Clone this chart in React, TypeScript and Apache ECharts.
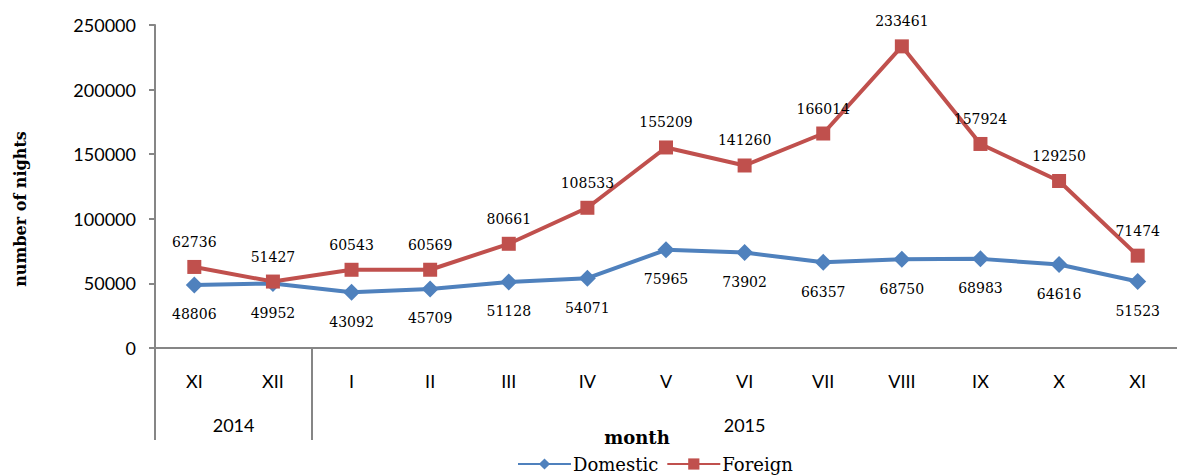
import React, { useEffect, useRef } from "react";
import * as echarts from "echarts";

const months = ["XI", "XII", "I", "II", "III", "IV", "V", "VI", "VII", "VIII", "IX", "X", "XI"];
const domestic = [48806, 49952, 43092, 45709, 51128, 54071, 75965, 73902, 66357, 68750, 68983, 64616, 51523];
const foreign = [62736, 51427, 60543, 60569, 80661, 108533, 155209, 141260, 166014, 233461, 157924, 129250, 71474];
const yearGroups = [
  { label: "2014", count: 2 },
  { label: "2015", count: 11 },
];
const yTicks = { min: 0, max: 250000, interval: 50000 };

const AXIS_GRAY = "#868686";
const SANS = "Lato, 'Liberation Sans', sans-serif";
const SERIF = "'DejaVu Serif', 'Liberation Serif', serif";

export default function App() {
  const ref = useRef<HTMLDivElement>(null);

  useEffect(() => {
    if (!ref.current) return;
    const chart = echarts.init(ref.current, undefined, { renderer: "svg" });

    const bounds: number[] = [0];
    const centers: number[] = [];
    let acc = 0;
    yearGroups.forEach((g) => {
      centers.push(acc + g.count / 2);
      acc += g.count;
      bounds.push(acc);
    });

    chart.setOption({
      animation: false,
      backgroundColor: "#ffffff",
      grid: { left: 155, top: 25, bottom: 127, right: -13, containLabel: false },
      xAxis: [
        {
          type: "category",
          data: months,
          boundaryGap: true,
          axisLine: { lineStyle: { color: AXIS_GRAY, width: 2 } },
          axisTick: { show: false },
          axisLabel: { color: "#000", fontFamily: SANS, fontSize: 18, margin: 24, interval: 0 },
          splitLine: { show: false },
        },
        {
          type: "value",
          min: 0,
          max: months.length,
          position: "bottom",
          axisLine: { show: false },
          splitLine: { show: false },
          axisTick: {
            show: true,
            inside: false,
            length: 92,
            customValues: bounds.slice(0, bounds.length - 1),
            lineStyle: { color: AXIS_GRAY, width: 2 },
          },
          axisLabel: {
            show: true,
            customValues: centers,
            formatter: (v: number) => {
              const i = centers.findIndex((c) => Math.abs(c - v) < 1e-6);
              return i >= 0 ? yearGroups[i].label : "";
            },
            color: "#000",
            fontFamily: SANS,
            fontSize: 18,
            margin: 68,
          },
        },
      ],
      yAxis: {
        type: "value",
        min: yTicks.min,
        max: yTicks.max,
        interval: yTicks.interval,
        axisLine: { show: true, lineStyle: { color: AXIS_GRAY, width: 2 } },
        axisTick: { show: true, length: 6, lineStyle: { color: AXIS_GRAY, width: 2 } },
        axisLabel: {
          color: "#000",
          fontFamily: SANS,
          fontSize: 18,
          margin: 19,
          formatter: (v: number) => String(v),
        },
        splitLine: { show: false },
      },
      legend: {
        left: 517,
        top: 455,
        itemWidth: 53,
        itemHeight: 14,
        itemGap: 8,
        padding: 0,
        textStyle: { fontFamily: SERIF, fontSize: 18, color: "#000", padding: [0, 0, 0, -3] },
        data: ["Domestic", "Foreign"],
      },
      graphic: [
        {
          type: "text",
          x: 20,
          y: 209,
          rotation: Math.PI / 2,
          style: {
            text: "number of nights",
            font: `bold 16px ${SERIF}`,
            fill: "#000",
            align: "center",
            verticalAlign: "middle",
          },
        },
        {
          type: "text",
          x: 637,
          y: 437,
          style: {
            text: "month",
            font: `bold 18px ${SERIF}`,
            fill: "#000",
            align: "center",
            verticalAlign: "middle",
          },
        },
      ],
      series: [
        {
          name: "Domestic",
          type: "line",
          data: domestic,
          symbol: "diamond",
          symbolSize: 17,
          itemStyle: { color: "#4F81BD" },
          lineStyle: { color: "#4F81BD", width: 4 },
          label: {
            show: true,
            position: "bottom",
            distance: 14,
            fontFamily: SERIF,
            fontSize: 14,
            color: "#000",
          },
          z: 2,
        },
        {
          name: "Foreign",
          type: "line",
          data: foreign,
          symbol: "rect",
          symbolSize: 14,
          itemStyle: { color: "#C0504D" },
          lineStyle: { color: "#C0504D", width: 4 },
          label: {
            show: true,
            position: "top",
            distance: 11,
            fontFamily: SERIF,
            fontSize: 14,
            color: "#000",
          },
          z: 3,
        },
      ],
    });

    return () => chart.dispose();
  }, []);

  return <div ref={ref} style={{ width: 1177, height: 475, position: "absolute", left: 0, top: 0 }} />;
}
